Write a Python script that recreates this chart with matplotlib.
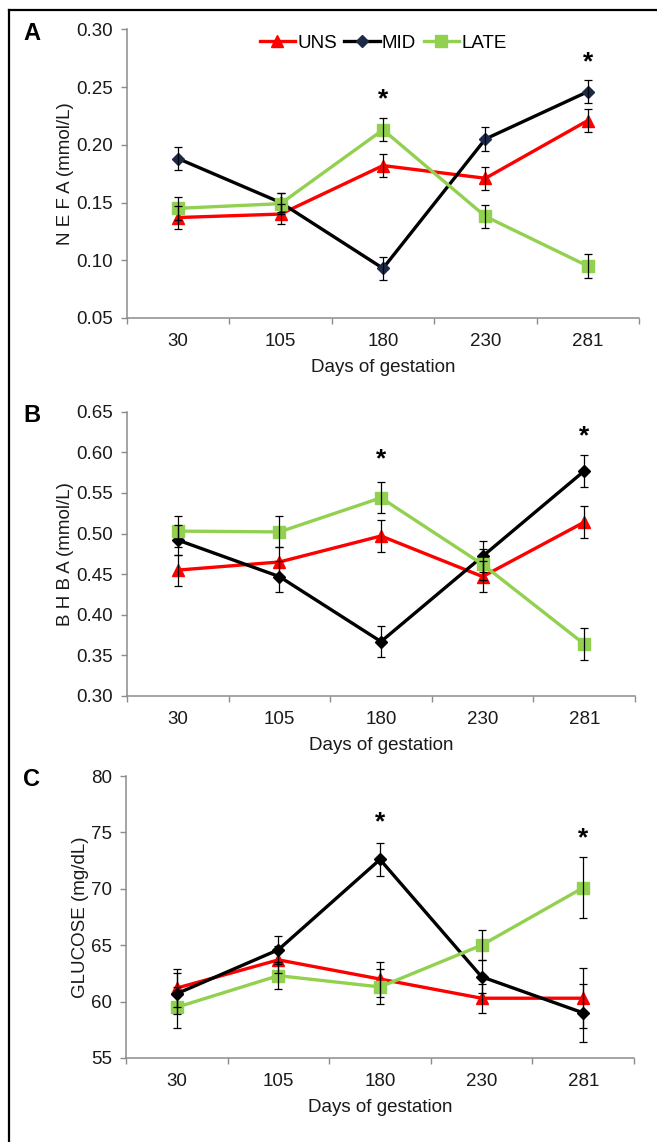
import matplotlib
matplotlib.use('Agg')
import matplotlib.pyplot as plt
from matplotlib.lines import Line2D

plt.rcParams['font.family'] = ['Liberation Sans', 'DejaVu Sans']

days = ['30', '105', '180', '230', '281']

# panel A - NEFA (mmol/L)
nefa_uns = [0.137, 0.140, 0.182, 0.171, 0.221]
nefa_mid = [0.188, 0.150, 0.093, 0.205, 0.246]
nefa_late = [0.145, 0.149, 0.213, 0.138, 0.095]
nefa_uns_err = [0.010, 0.009, 0.010, 0.010, 0.010]
nefa_mid_err = [0.010, 0.008, 0.010, 0.010, 0.010]
nefa_late_err = [0.010, 0.009, 0.010, 0.010, 0.010]
nefa_stars = [None, None, 0.239, None, 0.271]

# panel B - BHBA (mmol/L)
bhba_uns = [0.455, 0.465, 0.497, 0.447, 0.514]
bhba_mid = [0.492, 0.447, 0.367, 0.472, 0.577]
bhba_late = [0.503, 0.502, 0.544, 0.462, 0.364]
bhba_uns_err = [0.019, 0.018, 0.020, 0.019, 0.020]
bhba_mid_err = [0.019, 0.019, 0.019, 0.019, 0.020]
bhba_late_err = [0.019, 0.019, 0.019, 0.019, 0.020]
bhba_stars = [None, None, 0.592, None, 0.620]

# panel C - glucose (mg/dL)
glu_uns = [61.2, 63.7, 62.0, 60.3, 60.3]
glu_mid = [60.7, 64.6, 72.6, 62.2, 59.0]
glu_late = [59.5, 62.3, 61.3, 65.0, 70.1]
glu_uns_err = [1.7, 1.2, 1.55, 1.3, 2.65]
glu_mid_err = [1.8, 1.25, 1.5, 1.45, 2.55]
glu_late_err = [1.8, 1.2, 1.55, 1.35, 2.7]
glu_stars = [None, None, 75.9, None, 74.5]

RED = '#ff0000'
GREEN = '#92d050'
GREY = '#8c8c8c'
TXT = '#1a1a1a'
FS = 13.5

panels = [
    dict(letter='A', pos=[127/657, 1-318/1142, 512/657, 288.7/1142],
         ylim=(0.05, 0.30), yticks=[0.05, 0.10, 0.15, 0.20, 0.25, 0.30], fmt='{:.2f}',
         ylabel='N E F A (mmol/L)', uns=(nefa_uns, nefa_uns_err),
         mid=(nefa_mid, nefa_mid_err), late=(nefa_late, nefa_late_err),
         stars=nefa_stars, midcol='#1c2a48', legend=True),
    dict(letter='B', pos=[127/657, 1-696/1142, 508/657, 284.3/1142],
         ylim=(0.30, 0.65), yticks=[0.30, 0.35, 0.40, 0.45, 0.50, 0.55, 0.60, 0.65], fmt='{:.2f}',
         ylabel='B H B A (mmol/L)', uns=(bhba_uns, bhba_uns_err),
         mid=(bhba_mid, bhba_mid_err), late=(bhba_late, bhba_late_err),
         stars=bhba_stars, midcol='black', legend=False),
    dict(letter='C', pos=[126/657, 1-1058/1142, 508/657, 282/1142],
         ylim=(55, 80), yticks=[55, 60, 65, 70, 75, 80], fmt='{:.0f}',
         ylabel='GLUCOSE (mg/dL)', uns=(glu_uns, glu_uns_err),
         mid=(glu_mid, glu_mid_err), late=(glu_late, glu_late_err),
         stars=glu_stars, midcol='black', legend=False),
]

fig = plt.figure(figsize=(6.57, 11.42), dpi=100)
x = list(range(len(days)))

for p in panels:
    ax = fig.add_axes(p['pos'])
    l1, = ax.plot(x, p['uns'][0], color=RED, lw=2.4, marker='^', ms=9,
                  mec=RED, mfc=RED, label='UNS', zorder=3)
    l2, = ax.plot(x, p['mid'][0], color='black', lw=2.4, marker='D', ms=6.5,
                  mec=p['midcol'], mfc=p['midcol'], label='MID', zorder=3)
    l3, = ax.plot(x, p['late'][0], color=GREEN, lw=2.4, marker='s', ms=8.5,
                  mec=GREEN, mfc=GREEN, label='LATE', zorder=3)
    for vals, err in (p['uns'], p['mid'], p['late']):
        ax.errorbar(x, vals, yerr=err, fmt='none', ecolor='black', elinewidth=0.9,
                    capsize=3, capthick=0.9, zorder=4)
    for i, s in enumerate(p['stars']):
        if s is not None:
            ax.text(i, s, '*', ha='center', va='center', fontsize=19,
                    fontweight='bold', color='black')

    ax.set_xlim(-0.5, len(days) - 0.5)
    ax.set_ylim(*p['ylim'])
    ax.set_yticks(p['yticks'])
    ax.set_yticklabels([p['fmt'].format(v) for v in p['yticks']])
    ax.set_xticks([i - 0.5 for i in range(len(days) + 1)])
    ax.set_xticklabels([])
    ax.set_xticks(x, minor=True)
    ax.set_xticklabels(days, minor=True)
    ax.tick_params(axis='x', which='major', length=4, width=1, color=GREY, direction='out')
    ax.tick_params(axis='x', which='minor', length=0, pad=11, labelsize=FS, labelcolor=TXT)
    ax.tick_params(axis='y', length=4, width=1, color=GREY, pad=6, labelsize=FS, labelcolor=TXT)
    for side in ('top', 'right'):
        ax.spines[side].set_visible(False)
    for side in ('left', 'bottom'):
        ax.spines[side].set_color(GREY)
        ax.spines[side].set_linewidth(1.1)
    ax.set_xlabel('Days of gestation', fontsize=FS, labelpad=6, color=TXT)
    ax.set_ylabel(p['ylabel'], fontsize=FS, labelpad=1.5, color=TXT)

    if p['legend']:
        ax.legend(handles=[l1, l2, l3], loc='center', bbox_to_anchor=(0.5, 0.952),
                  ncol=3, frameon=False, fontsize=FS, handlelength=1.9,
                  handletextpad=0.1, columnspacing=0.4, borderpad=0)

    top = p['pos'][1] + p['pos'][3]
    fig.text(32/657, top - 4/1142, p['letter'], ha='center', va='center',
             fontsize=17, fontweight='bold')

# outer frame (runs off the right and bottom edges)
fig.add_artist(Line2D([9/657, 1.0], [1 - 9.5/1142] * 2, color='black', lw=1.6,
                      transform=fig.transFigure))
fig.add_artist(Line2D([9/657] * 2, [1 - 9.5/1142, 0.0], color='black', lw=1.6,
                      transform=fig.transFigure))

fig.savefig('out.png', dpi=100)
